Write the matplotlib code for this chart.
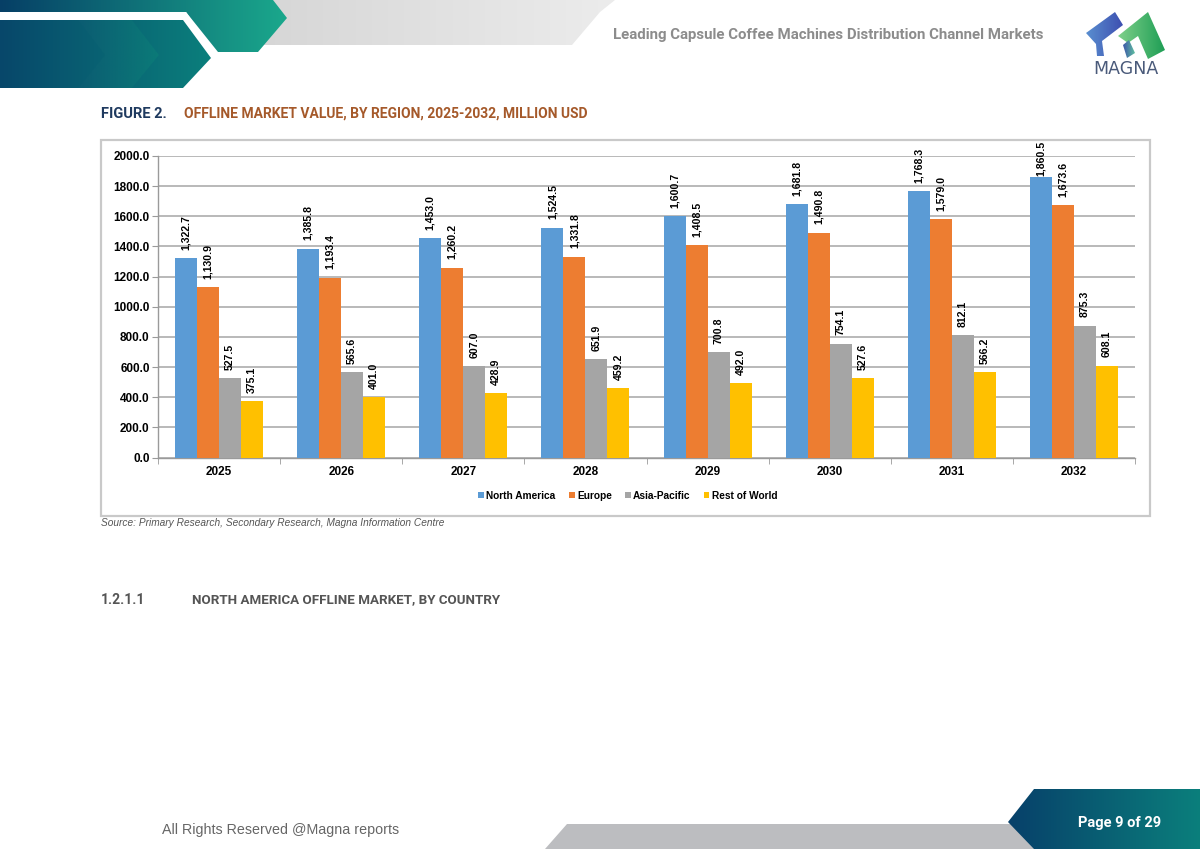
import numpy as np
import matplotlib.pyplot as plt
from matplotlib.colors import LinearSegmentedColormap
from matplotlib.patches import Polygon, Rectangle

plt.rcParams["font.family"] = ["Liberation Sans", "DejaVu Sans"]

anos = ["2025", "2026", "2027", "2028", "2029", "2030", "2031", "2032"]
north_america = [1322.7, 1385.8, 1453.0, 1524.5, 1600.7, 1681.8, 1768.3, 1860.5]
europe = [1130.9, 1193.4, 1260.2, 1331.8, 1408.5, 1490.8, 1579.0, 1673.6]
asia_pacific = [527.5, 565.6, 607.0, 651.9, 700.8, 754.1, 812.1, 875.3]
rest_of_world = [375.1, 401.0, 428.9, 459.2, 492.0, 527.6, 566.2, 608.1]
regioes = ["North America", "Europe", "Asia-Pacific", "Rest of World"]
cores = ["#5b9bd5", "#ed7d31", "#a5a5a5", "#ffc000"]

W, H = 1200, 849
fig = plt.figure(figsize=(12, 8.49), dpi=100)

# pagina inteira em coordenadas de pixel
pg = fig.add_axes([0, 0, 1, 1])
pg.axis("off")


def gradiente(pts, c1, c2, zorder=1):
    xs = [p[0] for p in pts]
    ys = [p[1] for p in pts]
    cmap = LinearSegmentedColormap.from_list("g", [c1, c2])
    im = pg.imshow(np.linspace(0, 1, 256).reshape(1, -1), cmap=cmap, aspect="auto",
                   extent=[min(xs), max(xs), max(ys), min(ys)], zorder=zorder)
    poly = Polygon(pts, closed=True, transform=pg.transData, fc="none", ec="none")
    pg.add_patch(poly)
    im.set_clip_path(poly)


# cabecalho
gradiente([(258, 0), (615, 0), (600, 12), (572, 45), (258, 45)], "#d6d6d6", "#ececec", 1)
gradiente([(0, 0), (273, 0), (287, 18), (258, 52), (218, 52), (186, 12), (0, 12)], "#063f66", "#1aa88c", 2)
pg.add_patch(Polygon([(0, 12), (186, 12), (218, 58), (188, 94), (0, 94)], fc="#ffffff", ec="none", zorder=3))
gradiente([(0, 20), (183, 20), (211, 58), (183, 88), (0, 88)], "#07476a", "#0b7f7c", 4)
gradiente([(78, 20), (105, 55), (78, 88), (132, 88), (159, 55), (132, 20)], "#0b5c72", "#0b7a78", 5)

# logo
gradiente([(1086, 33), (1115, 12), (1123, 25), (1102, 41), (1104, 56), (1097, 56), (1096, 44)], "#5a8fd0", "#3d4fb0", 2)
gradiente([(1118, 36), (1148, 12), (1165, 50), (1148, 59), (1138, 36), (1128, 43)], "#7fd08a", "#1e9e55", 2)
gradiente([(1123, 45), (1129, 40), (1135, 53), (1127, 58)], "#3d55a8", "#5fc0a0", 2)
pg.text(1125.5, 69, "MAGNA", ha="center", va="center", fontsize=12.5, color="#4a5a7a",
        family=["DejaVu Sans"], zorder=6)

pg.text(828.5, 35, "Leading Capsule Coffee Machines Distribution Channel Markets", ha="center", va="center",
        fontsize=10.8, color="#8c8c8c", fontweight="bold", family=["Roboto", "Liberation Sans"])
pg.text(101, 114, "FIGURE 2.", ha="left", va="center", fontsize=10.5, color="#1f3a5f", fontweight="bold",
        family=["Roboto", "Liberation Sans"])
pg.text(184, 114, "OFFLINE MARKET VALUE, BY REGION, 2025-2032, MILLION USD", ha="left", va="center",
        fontsize=10, color="#a5592a", fontweight="bold", family=["Roboto", "Liberation Sans"])

# moldura do grafico
pg.add_patch(Rectangle((101, 140), 1049, 376, fc="white", ec="#c9c9c9", lw=1.6, zorder=1))

# textos de baixo
pg.text(101, 523, "Source: Primary Research, Secondary Research, Magna Information Centre", ha="left", va="center",
        fontsize=7.3, style="italic", color="#555555")
pg.text(101, 600, "1.2.1.1", ha="left", va="center", fontsize=10, color="#555555", fontweight="bold",
        family=["Roboto", "Liberation Sans"])
pg.text(192, 600, "NORTH AMERICA OFFLINE MARKET, BY COUNTRY", ha="left", va="center", fontsize=9.6,
        color="#555555", fontweight="bold", family=["Roboto", "Liberation Sans"])
pg.text(162, 830, "All Rights Reserved @Magna reports", ha="left", va="center", fontsize=10.3, color="#666666")

# rodape
pg.add_patch(Polygon([(567, 824), (1020, 824), (1040, 849), (545, 849)], fc="#bcbdc0", ec="none", zorder=1))
gradiente([(1034, 789), (1200, 789), (1200, 849), (1034, 849), (1008, 822)], "#07406a", "#0b7f7c", 2)
pg.text(1120, 823, "Page 9 of 29", ha="center", va="center", fontsize=10.5, color="white", fontweight="bold",
        family=["Roboto", "Liberation Sans"], zorder=5)

pg.set_xlim(0, W)
pg.set_ylim(H, 0)

# grafico de barras
ax = fig.add_axes([158 / W, 1 - 457.5 / H, (1135 - 158) / W, (457.5 - 156) / H], facecolor="none")
x = np.arange(len(anos))
largura = 0.18
series = [north_america, europe, asia_pacific, rest_of_world]
for i, valores in enumerate(series):
    barras = ax.bar(x + (i - 1.5) * largura, valores, largura, color=cores[i], label=regioes[i], zorder=3)
    textos = ax.bar_label(barras, labels=[f"{v:,.1f}" for v in valores], rotation=90, padding=6,
                          fontsize=7.6, fontweight="bold", color="black", zorder=5)
    # o ultimo rotulo azul fica colado a barra para nao sair da moldura
    if i == 0:
        textos[-1].xyann = (0, 0.5)

ax.set_xlim(-0.5, len(anos) - 0.5)
ax.set_ylim(0, 2000)
ax.set_yticks(np.arange(0, 2001, 200))
ax.set_yticklabels([f"{v:.1f}" for v in np.arange(0, 2001, 200)], fontsize=8.5, fontweight="bold")
ax.set_xticks(x)
ax.set_xticklabels(anos, fontsize=8.5, fontweight="bold")
ax.set_xticks(np.arange(-0.5, len(anos)), minor=True)
ax.tick_params(axis="x", which="major", length=0, pad=6)
ax.tick_params(axis="x", which="minor", length=4, color="#9a9a9a")
ax.tick_params(axis="y", length=4, color="#9a9a9a", pad=2)
ax.grid(axis="y", color="#a6a6a6", lw=1.1, zorder=0)
ax.set_axisbelow(True)
for lado in ["top", "right"]:
    ax.spines[lado].set_visible(False)
for lado in ["left", "bottom"]:
    ax.spines[lado].set_color("#9a9a9a")
    ax.spines[lado].set_linewidth(1)

ax.legend(loc="center", bbox_to_anchor=((628 - 158) / (1135 - 158), (457.5 - 496) / (457.5 - 156)), ncol=4, frameon=False,
          prop={"size": 7.3, "weight": "bold"}, handlelength=0.55, handleheight=0.55, handletextpad=0.25,
          columnspacing=1.3)

fig.savefig("out.png", dpi=100)
